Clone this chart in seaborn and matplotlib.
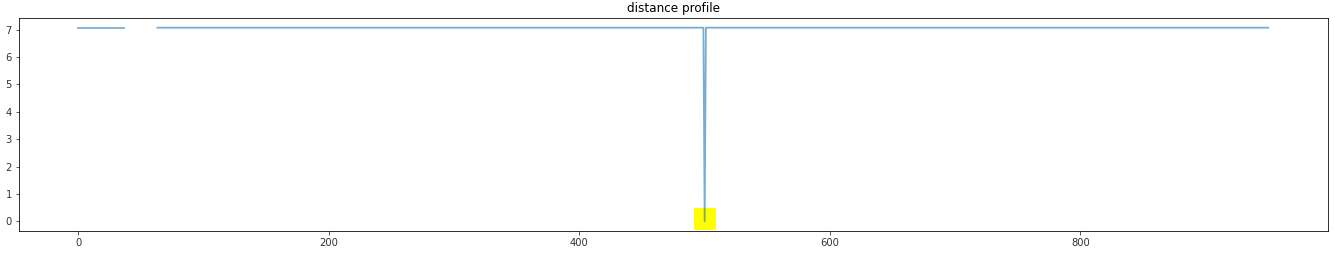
import numpy as np
import pandas as pd
import matplotlib
matplotlib.use("Agg")
import matplotlib.pyplot as plt
import seaborn as sns

# Distance profile, stored as run-length data (value, run length)
run_values = [7.0711, np.nan, 7.0711, 0.0, 7.0711]
run_lengths = [37, 26, 437, 1, 450]

# Best match highlight marker (position)
match_index = [500]
match_value = [0.1]

title = "distance profile"

dp = np.repeat(np.array(run_values, dtype=float), run_lengths)
df = pd.DataFrame({"index": np.arange(len(dp)), "distance": dp})
# split the line into segments at missing values so gaps stay open
df["segment"] = df["distance"].isna().cumsum()
df = df.dropna()
mdf = pd.DataFrame({"index": match_index, "distance": match_value})

dpi = 72
fig = plt.figure(figsize=(1335 / dpi, 259 / dpi), dpi=dpi)
ax = fig.add_axes([19 / 1335, 1 - 231 / 259, (1327.7 - 19) / 1335, (231 - 18) / 259])

sns.scatterplot(data=mdf, x="index", y="distance", marker="s", s=22 ** 2,
                color="yellow", edgecolor="none", linewidth=0, ax=ax, zorder=1)
sns.lineplot(data=df, x="index", y="distance", units="segment", estimator=None,
             color="#1f77b4", alpha=0.6, linewidth=1.8, ax=ax, zorder=2)

ax.set_xlim(-47.5, 997.5)
ax.set_ylim(-0.354, 7.425)
ax.set_xticks([0, 200, 400, 600, 800])
ax.set_yticks(range(0, 8))
ax.set_xlabel("")
ax.set_ylabel("")
ax.set_title(title, fontsize=12)
ax.tick_params(labelsize=10, colors="#333333")

fig.savefig("out.png", dpi=dpi)
